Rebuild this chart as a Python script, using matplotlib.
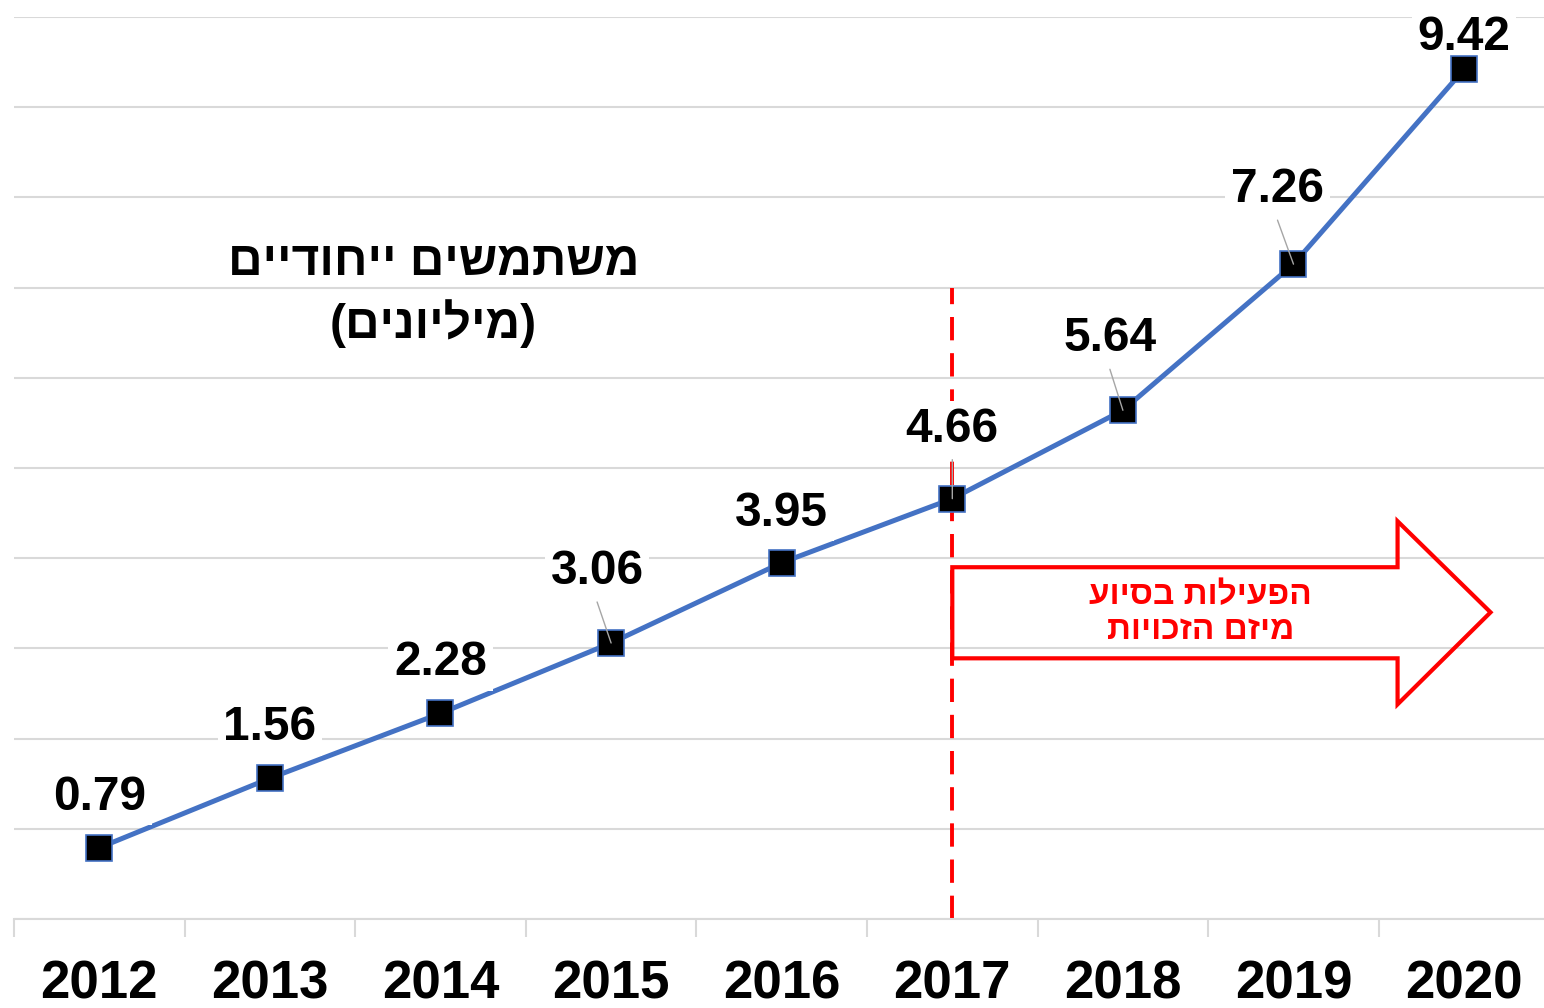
import matplotlib
matplotlib.use("Agg")
import matplotlib.pyplot as plt
from matplotlib.patches import Polygon

years = ["2012", "2013", "2014", "2015", "2016", "2017", "2018", "2019", "2020"]
users = [0.79, 1.56, 2.28, 3.06, 3.95, 4.66, 5.64, 7.26, 9.42]
# label offsets (pixels) from marker to text baseline
label_dx = [0, 0, 0, -14, 0, 0, -13, -16, 0]
label_dy = [38, 38, 38, 59, 37, 57, 59, 62, 19]
leader = [False, False, False, True, False, True, True, True, False]

title_lines = ["משתמשים ייחודיים", "(מיליונים)"]
arrow_lines = ["הפעילות בסיוע", "מיזם הזכויות"]


def heb(s):
    # matplotlib has no bidi, so put the letters in visual order
    mirror = {"(": ")", ")": "("}
    return "".join(mirror.get(c, c) for c in s[::-1])


blue = "#4472C4"
red = "#FF0000"
grid = "#D9D9D9"

plt.rcParams["font.family"] = ["Liberation Sans", "DejaVu Sans"]

fig = plt.figure(figsize=(15.44, 10.08), dpi=100)
ax = fig.add_axes([14 / 1544, 89 / 1008, 9 * 170.6 / 1544, 902 / 1008])

x = list(range(len(years)))
ax.plot(x, users, color=blue, lw=3.6, zorder=3)
ax.plot(x, users, ls="none", marker="s", markersize=18.5, markerfacecolor="black",
        markeredgecolor=blue, markeredgewidth=1.2, zorder=5)

for i, v in enumerate(users):
    ax.annotate(f"{v:.2f}", xy=(i, v), xytext=(label_dx[i], label_dy[i]),
                textcoords="offset pixels", ha="center", va="baseline",
                fontsize=34.5, fontweight="bold", color="black", zorder=4,
                bbox=dict(boxstyle="square,pad=0.12", fc="white", ec="none"))
    if leader[i]:
        ax.annotate("", xy=(i, v), xytext=(label_dx[i], label_dy[i] - 18),
                    textcoords="offset pixels", zorder=6,
                    arrowprops=dict(arrowstyle="-", color="#A6A6A6", lw=1,
                                    shrinkA=0, shrinkB=0))

# dashed marker for 2017
ax.plot([5, 5], [0, 7.0], color=red, lw=2.8, ls=(0, (6, 3.3)), zorder=2)

# outlined block arrow starting at 2017
arrow_pts = [(5, 3.90), (7.61, 3.90), (7.61, 4.41), (8.155, 3.40),
             (7.61, 2.38), (7.61, 2.89), (5, 2.89)]
ax.add_patch(Polygon(arrow_pts, closed=True, fill=False, ec=red, lw=3, zorder=2.5))
ax.text(6.455, 3.585, heb(arrow_lines[0]), ha="center", va="center",
        fontsize=24, fontweight="bold", color=red, zorder=4)
ax.text(6.455, 3.195, heb(arrow_lines[1]), ha="center", va="center",
        fontsize=24, fontweight="bold", color=red, zorder=4)

ax.text(1.96, 7.28, heb(title_lines[0]), ha="center", va="center",
        fontsize=34.5, fontweight="bold", color="black")
ax.text(1.96, 6.6, heb(title_lines[1]), ha="center", va="center",
        fontsize=34.5, fontweight="bold", color="black")

ax.set_xlim(-0.5, 8.5)
ax.set_ylim(0, 10)
ax.set_yticks(range(0, 11))
ax.yaxis.grid(True, color=grid, lw=1.5)
ax.set_axisbelow(True)
ax.tick_params(axis="y", left=False, labelleft=False)

ax.set_xticks(x)
ax.set_xticklabels(years, fontsize=38, fontweight="bold")
ax.set_xticks([i - 0.5 for i in range(len(years) + 1)], minor=True)
ax.tick_params(axis="x", which="major", length=0, pad=29)
ax.tick_params(axis="x", which="minor", length=13, width=1.5, color=grid)

for s in ["left", "right", "top"]:
    ax.spines[s].set_visible(False)
ax.spines["bottom"].set_color(grid)
ax.spines["bottom"].set_linewidth(1.5)

fig.savefig("out.png", dpi=100)
